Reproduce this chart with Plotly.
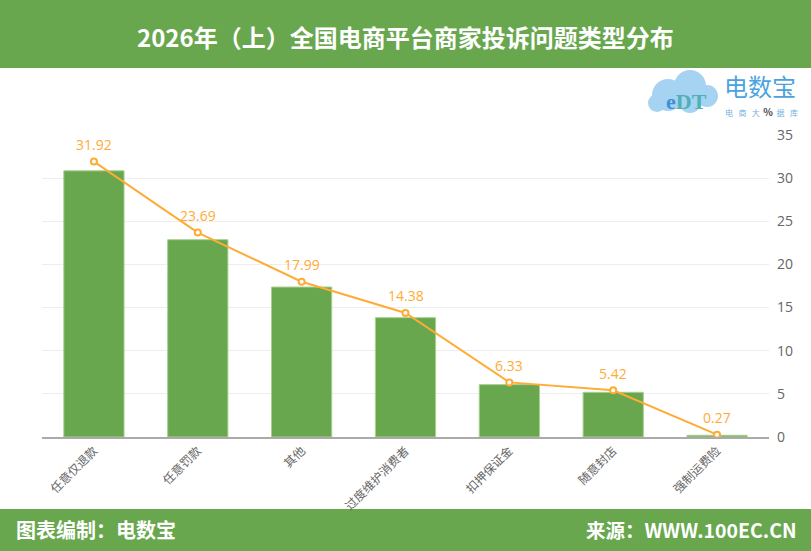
import plotly.graph_objects as go

categories = ["任意仅退款", "任意罚款", "其他", "过度维护消费者", "扣押保证金", "随意封店", "强制运费险"]
bar_values = [30.85, 22.87, 17.38, 13.83, 6.07, 5.18, 0.2]
line_values = [31.92, 23.69, 17.99, 14.38, 6.33, 5.42, 0.27]
line_labels = ["31.92", "23.69", "17.99", "14.38", "6.33", "5.42", "0.27"]
y_ticks = [0, 5, 10, 15, 20, 25, 30, 35]

title_text = "2026年（上）全国电商平台商家投诉问题类型分布"
footer_left = "图表编制：电数宝"
footer_right = "来源：WWW.100EC.CN"

W, H = 811, 551
L, R, T, B = 42, 42, 135, 114
PW = W - L - R
PH = H - T - B


def px_x(x):
    return (x - L) / PW


def px_y(y):
    return (H - B - y) / PH


GREEN = "#68a74e"
ORANGE = "#ffab36"
FONT = "Noto Sans CJK SC"

fig = go.Figure()
fig.add_trace(go.Bar(
    x=categories, y=bar_values,
    marker=dict(color=GREEN, line=dict(color="#a9d18e", width=1)),
    hoverinfo="skip", showlegend=False,
))
fig.add_trace(go.Scatter(
    x=categories, y=line_values,
    mode="lines+markers",
    line=dict(color=ORANGE, width=2),
    marker=dict(symbol="circle", size=6, color="white", line=dict(color=ORANGE, width=2)),
    showlegend=False, cliponaxis=False,
))

shapes = [
    dict(type="rect", xref="paper", yref="paper", x0=px_x(0), x1=px_x(W),
         y0=px_y(68), y1=px_y(0), fillcolor=GREEN, line=dict(width=0), layer="below"),
    dict(type="rect", xref="paper", yref="paper", x0=px_x(0), x1=px_x(W),
         y0=px_y(H), y1=px_y(509), fillcolor=GREEN, line=dict(width=0), layer="below"),
]
# logo cloud
cloud = [(668, 95, 16), (690, 86, 16), (707, 96, 11), (657, 103, 9), (690, 102, 11)]
for cx, cy, r in cloud:
    shapes.append(dict(type="circle", xref="paper", yref="paper",
                       x0=px_x(cx - r), x1=px_x(cx + r), y0=px_y(cy + r), y1=px_y(cy - r),
                       fillcolor="#a6d3f2", line=dict(width=0), layer="above"))

annotations = [
    dict(text="<b>" + title_text + "</b>", x=0.5, xref="x domain", xanchor="center",
         y=px_y(37), yref="paper", yanchor="middle", showarrow=False,
         font=dict(color="white", size=24, family=FONT)),
    dict(text="<b>" + footer_left + "</b>", x=px_x(14), xref="paper", xanchor="left",
         y=px_y(529), yref="paper", yanchor="middle", showarrow=False,
         font=dict(color="white", size=20, family=FONT)),
    dict(text="<b>" + footer_right + "</b>", x=px_x(799), xref="paper", xanchor="right",
         y=px_y(529), yref="paper", yanchor="middle", showarrow=False,
         font=dict(color="white", size=19.5, family=FONT)),
    dict(text="<b><span style='color:#3f8fd9'>e</span>DT</b>", x=px_x(686), xref="paper", xanchor="center",
         y=px_y(101), yref="paper", yanchor="middle", showarrow=False,
         font=dict(color="#4fb0b5", size=22, family="Liberation Serif")),
    dict(text="电数宝", x=px_x(760), xref="paper", xanchor="center",
         y=px_y(85), yref="paper", yanchor="middle", showarrow=False,
         font=dict(color="#4aa3e0", size=24, family=FONT)),
    dict(text="电   商   大  <span style='color:#444;font-size:10px'><b>%</b></span>  据   库", x=px_x(761), xref="paper", xanchor="center",
         y=px_y(111), yref="paper", yanchor="middle", showarrow=False,
         font=dict(color="#6fb3e3", size=8, family=FONT)),
]
for c, v, t in zip(categories, line_values, line_labels):
    annotations.append(dict(text=t, x=c, y=v, xref="x", yref="y", showarrow=False,
                            yshift=17, font=dict(color=ORANGE, size=14, family="Open Sans")))

fig.update_layout(
    width=W, height=H,
    margin=dict(l=L, r=R, t=T, b=B, pad=0),
    paper_bgcolor="white", plot_bgcolor="white",
    bargap=0.42,
    shapes=shapes, annotations=annotations,
    font=dict(family=FONT),
    xaxis=dict(
        tickangle=-45, tickfont=dict(size=12, color="#666666", family=FONT),
        showline=True, linecolor="#aaaaaa", linewidth=2, showgrid=False,
        ticks="", fixedrange=True,
    ),
    yaxis=dict(
        side="right", range=[0, 35], tickvals=y_ticks,
        tickfont=dict(size=14, color="#666666", family="Open Sans"),
        showgrid=True, gridcolor="#eeeeee", gridwidth=1,
        zeroline=False, showline=False, ticks="", ticklabelstandoff=7,
    ),
)

fig.write_html("out.html")
